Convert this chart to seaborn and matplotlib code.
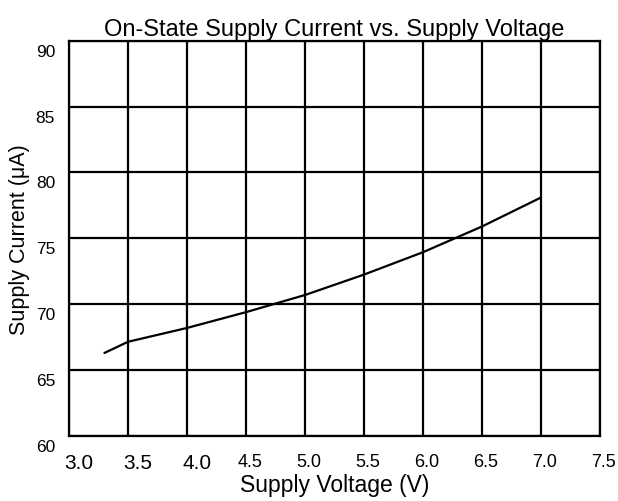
import matplotlib
matplotlib.use("Agg")
import matplotlib.pyplot as plt
import matplotlib.transforms as mtransforms
import pandas as pd
import seaborn as sns

# values
voltage = [3.3, 3.5, 4.0, 4.5, 5.0, 5.5, 6.0, 6.5, 7.0]
current = [66.3, 67.15, 68.2, 69.4, 70.7, 72.25, 73.95, 75.9, 78.1]

x_ticks = [3.0, 3.5, 4.0, 4.5, 5.0, 5.5, 6.0, 6.5, 7.0, 7.5]
x_tick_labels = ["3.0", "3.5", "4.0", "4.5", "5.0", "5.5", "6.0", "6.5", "7.0", "7.5"]
y_ticks = [60, 65, 70, 75, 80, 85, 90]
y_tick_labels = ["60", "65", "70", "75", "80", "85", "90"]

df = pd.DataFrame({"voltage": voltage, "current": current})

sns.set_style("white")
plt.rcParams["font.family"] = ["Liberation Sans", "DejaVu Sans"]
plt.rcParams.update({"text.color": "black", "axes.labelcolor": "black",
                     "xtick.color": "black", "ytick.color": "black"})

fig = plt.figure(figsize=(6.18, 5.02), dpi=100)
ax = fig.add_axes([69 / 618, 1 - 437 / 502, 531 / 618, 395.3 / 502])

sns.lineplot(data=df, x="voltage", y="current", color="black", linewidth=1.6, ax=ax)

ax.set_xlim(3.0, 7.5)
ax.set_ylim(60, 90)
ax.set_xticks(x_ticks)
ax.set_xticklabels(x_tick_labels)
ax.set_yticks(y_ticks)
ax.set_yticklabels(y_tick_labels)

ax.grid(True, color="black", linewidth=1.6)
ax.set_axisbelow(True)
for s in ax.spines.values():
    s.set_color("black")
    s.set_linewidth(1.6)

ax.tick_params(axis="x", direction="out", length=3, width=1.2, color="black", pad=9)
ax.tick_params(axis="y", length=0, pad=10)

# mixed label sizes and small offsets as in the reference
for i, lab in enumerate(ax.get_xticklabels()):
    big = i < 3
    lab.set_fontsize(15 if big else 13)
    dx = (10 if big else 4) / 100
    lab.set_transform(lab.get_transform() + mtransforms.ScaledTranslation(dx, 0, fig.dpi_scale_trans))
for lab in ax.get_yticklabels():
    lab.set_fontsize(12.5)
    lab.set_transform(lab.get_transform() + mtransforms.ScaledTranslation(0, -9 / 100, fig.dpi_scale_trans))

ax.set_title("On-State Supply Current vs. Supply Voltage", fontsize=17, pad=4)
ax.set_xlabel("Supply Voltage (V)", fontsize=16.5)
ax.xaxis.set_label_coords(0.5, -0.094)
ax.set_ylabel("Supply Current (\u03bcA)", fontsize=15.5, va="center")
ax.yaxis.set_label_coords(-0.093, 0.5)

fig.savefig("out.png", dpi=100)
